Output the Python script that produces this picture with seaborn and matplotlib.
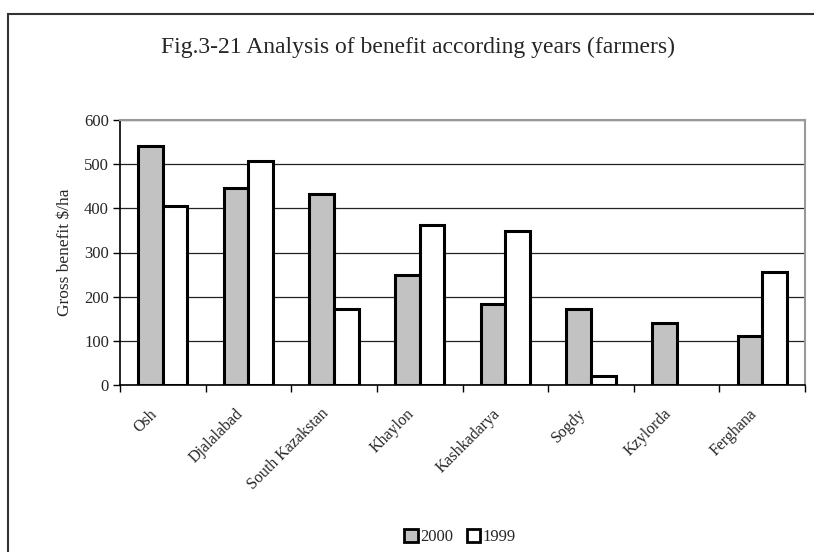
import matplotlib
matplotlib.use("Agg")
import matplotlib.pyplot as plt
import seaborn as sns
import pandas as pd
from matplotlib.patches import Rectangle, Patch

regions = ["Osh", "Djalalabad", "South Kazakstan", "Khaylon", "Kashkadarya",
           "Sogdy", "Kzylorda", "Ferghana"]
values_2000 = [542, 446, 433, 248, 183, 173, 140, 112]
values_1999 = [405, 507, 173, 362, 349, 20, 0, 256]
years = ["2000", "1999"]

df = pd.DataFrame({
    "Region": regions * 2,
    "Year": [years[0]] * len(regions) + [years[1]] * len(regions),
    "Value": values_2000 + values_1999,
})

sns.set_style("white")
plt.rcParams['font.family'] = ['Liberation Serif', 'DejaVu Serif']

fig = plt.figure(figsize=(8.14, 5.52), dpi=100)
ax = fig.add_axes([120 / 814, 1 - 385 / 552, 685 / 814, 265 / 552])

palette = {"2000": "#c2c2c2", "1999": "#ffffff"}
sns.barplot(data=df, x="Region", y="Value", hue="Year", palette=palette,
            width=0.575, gap=0, edgecolor="black", linewidth=2.2,
            saturation=1, ax=ax, legend=False)
for p in ax.patches:
    if p.get_height() == 0:
        p.set_visible(False)

ax.set_xlim(-0.5, len(regions) - 0.5)
ax.set_ylim(0, 600)
ax.set_yticks(range(0, 601, 100))
ax.set_yticklabels([str(v) for v in range(0, 601, 100)], fontsize=12)
ax.yaxis.grid(True, color="#222222", linewidth=0.9)
ax.set_axisbelow(True)

# category boundary ticks (major) and shifted category labels (minor)
ax.set_xticks([i + 0.5 for i in range(-1, len(regions))], minor=False)
ax.set_xticklabels([])
ax.set_xticks([i - 0.16 for i in range(len(regions))], minor=True)
ax.set_xticklabels(regions, minor=True, rotation=45, ha="right",
                   rotation_mode="anchor", fontsize=11.5)
ax.tick_params(axis="x", which="minor", length=0, pad=15)
ax.tick_params(axis="x", which="major", direction="out", length=5,
               width=1, color="black", bottom=True)
ax.tick_params(axis="y", direction="out", length=5, width=1,
               color="black", left=True, pad=3)

ax.set_xlabel("")
ax.set_ylabel("Gross benefit \\$/ha", fontsize=12.5, labelpad=8)

for side in ["top", "right"]:
    ax.spines[side].set_color("#999999")
    ax.spines[side].set_linewidth(1.5)
for side in ["left", "bottom"]:
    ax.spines[side].set_color("black")
    ax.spines[side].set_linewidth(1.2)

fig.patches.append(Rectangle((8 / 814, -0.1), 1.2, 1 - 14 / 552 + 0.1,
                             transform=fig.transFigure, fill=False,
                             edgecolor="#333333", linewidth=1.5))

fig.text(418 / 814, 1 - 47 / 552,
         "Fig.3-21 Analysis of benefit according years (farmers)",
         ha="center", va="center", fontsize=17)

handles = [Patch(facecolor=palette[y], edgecolor="black", linewidth=2.0)
           for y in years]
fig.legend(handles, years, loc="center", bbox_to_anchor=(460 / 814, 1 - 537 / 552),
           ncol=2, frameon=False, fontsize=12, handlelength=0.8,
           handleheight=0.8, handletextpad=0.15, columnspacing=0.8,
           borderpad=0)

fig.savefig("out.png", dpi=100)
